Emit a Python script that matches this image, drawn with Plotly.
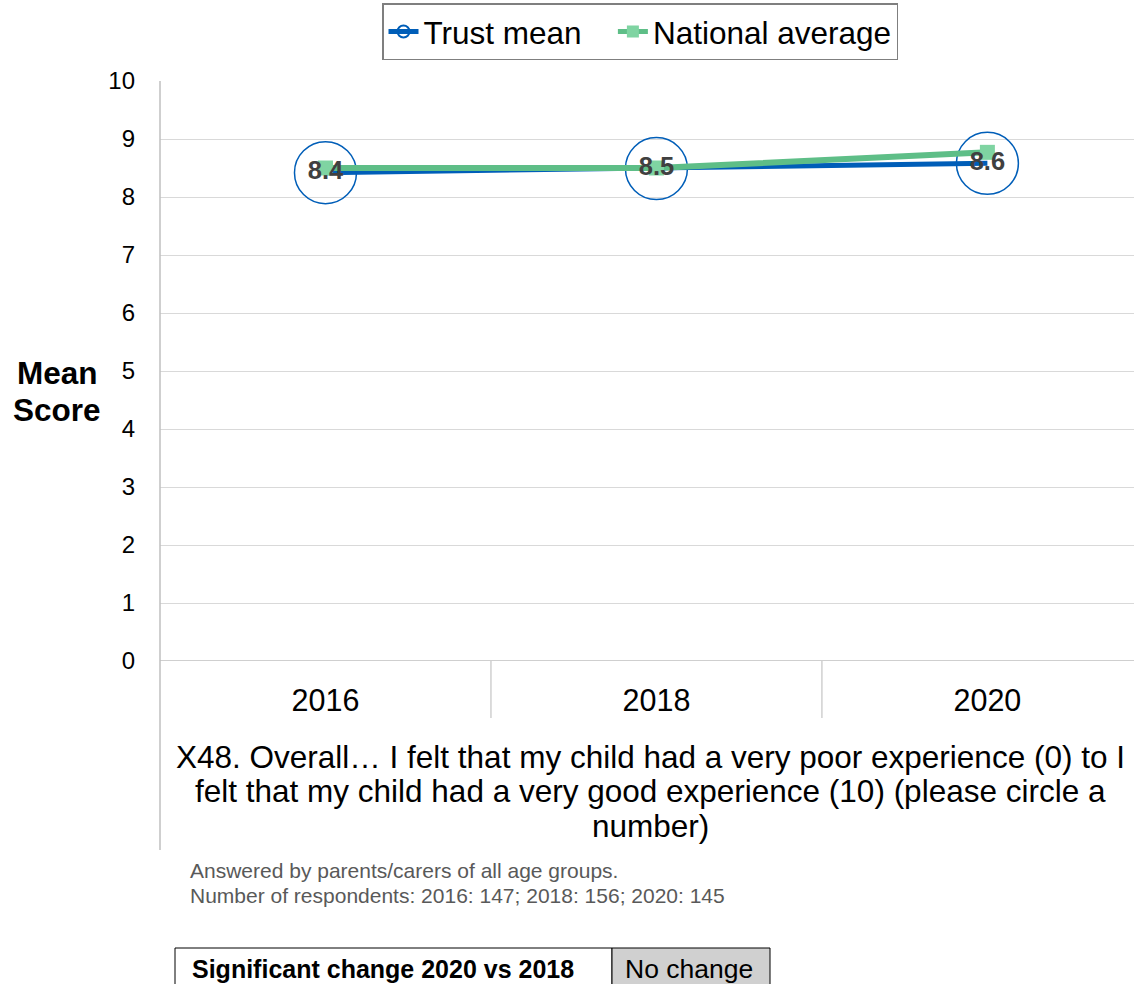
import plotly.graph_objects as go

years = ["2016", "2018", "2020"]
trust_mean = [8.42, 8.49, 8.58]
national_avg = [8.5, 8.5, 8.77]
trust_labels = ["8.4", "8.5", "8.6"]
y_ticks = list(range(0, 11))

question_lines = [
    "X48. Overall\u2026 I felt that my child had a very poor experience (0) to I",
    "felt that my child had a very good experience (10) (please circle a",
    "number)",
]
note_lines = [
    "Answered by parents/carers of all age groups.",
    "Number of respondents: 2016: 147; 2018: 156; 2020: 145",
]
sig_label = "Significant change 2020 vs 2018"
sig_value = "No change"

FONT = "Liberation Sans, Arial, sans-serif"
xs = list(range(len(years)))

PLOT_L, PLOT_T, PLOT_W, PLOT_H = 160, 81, 974, 580


def px_x(sx):
    return (sx - PLOT_L) / PLOT_W


def px_y(sy):
    return (PLOT_T + PLOT_H - sy) / PLOT_H


fig = go.Figure()
fig.add_trace(go.Scatter(
    x=xs, y=trust_mean, name="Trust mean\u00a0\u00a0\u00a0", mode="lines+markers",
    line=dict(color="#005EB8", width=5),
    marker=dict(symbol="circle", size=62, color="rgba(255,255,255,0)",
                line=dict(color="#005EB8", width=1.5)),
))
fig.add_trace(go.Scatter(
    x=xs, y=national_avg, name="National average", mode="lines+markers",
    line=dict(color="#5EBE87", width=6),
    marker=dict(symbol="square", size=15, color="#7FD4A2"),
))
fig.add_trace(go.Scatter(
    x=xs, y=trust_mean, mode="text", text=trust_labels, showlegend=False,
    textposition="middle center",
    textfont=dict(family=FONT, size=25.5, color="#404040", weight="bold"),
    hoverinfo="skip",
))

fig.update_xaxes(
    range=[-0.5, 2.443], tickmode="array", tickvals=xs, ticktext=years,
    showgrid=False, zeroline=False, showline=False, ticks="",
    tickfont=dict(family=FONT, size=30.5, color="#000000"), ticklabelstandoff=18,
)
fig.update_yaxes(
    range=[0, 10], tickvals=y_ticks, showgrid=True, gridcolor="#D9D9D9", gridwidth=1,
    zeroline=False, showline=False, ticks="",
    tickfont=dict(family=FONT, size=24, color="#000000"), ticklabelstandoff=24,
)

shapes = [
    dict(type="line", xref="paper", yref="y", x0=0, x1=1, y0=0, y1=0,
         line=dict(color="#BFBFBF", width=1.5)),
    dict(type="line", xref="paper", yref="paper", x0=0, x1=0, y0=1, y1=px_y(850),
         line=dict(color="#BFBFBF", width=1.5)),
    dict(type="rect", xref="paper", yref="paper", x0=px_x(175), x1=px_x(612),
         y0=px_y(1000), y1=px_y(948),
         line=dict(color="#000000", width=1), fillcolor="#FFFFFF"),
    dict(type="rect", xref="paper", yref="paper", x0=px_x(612), x1=px_x(770),
         y0=px_y(1000), y1=px_y(948),
         line=dict(color="#000000", width=1), fillcolor="#D0D0D0"),
]
for b in [0.5, 1.5]:
    shapes.append(dict(type="line", xref="x", yref="paper", x0=b, x1=b, y0=0, y1=px_y(718),
                       line=dict(color="#D0D0D0", width=1.5)))


def note(text, sx, sy, size, anchor="center", color="#000000"):
    return dict(text=text, xref="paper", yref="paper", x=px_x(sx), y=px_y(sy),
                xanchor=anchor, yanchor="middle", showarrow=False,
                font=dict(family=FONT, size=size, color=color))


annotations = [
    note("<b>Mean</b>", 57, 373, 31.5),
    note("<b>Score</b>", 57, 410, 31.5),
]
for line, sy in zip(question_lines, [757, 791, 826]):
    annotations.append(note(line, 650, sy, 31.5))
for line, sy in zip(note_lines, [870, 895]):
    annotations.append(note(line, 188, sy, 21, anchor="left", color="#595959"))
annotations.append(note("<b>" + sig_label + "</b>", 383, 969, 25))
annotations.append(note(sig_value, 689, 969, 26.5))

fig.update_layout(
    width=1134, height=984,
    margin=dict(l=PLOT_L, r=1134 - PLOT_L - PLOT_W, t=PLOT_T, b=984 - PLOT_T - PLOT_H),
    plot_bgcolor="#FFFFFF", paper_bgcolor="#FFFFFF",
    font=dict(family=FONT, color="#000000"),
    showlegend=True,
    legend=dict(orientation="h", x=px_x(640), xanchor="center",
                y=px_y(3), yanchor="top",
                bordercolor="#7F7F7F", borderwidth=1.5, bgcolor="#FFFFFF",
                font=dict(family=FONT, size=31.5, color="#000000"),
                itemsizing="constant", tracegroupgap=0),
    shapes=shapes, annotations=annotations,
)

# drop the default page margin so the figure sits at the window's corner
fig.write_html("out.html", config={"displayModeBar": False},
               post_script="document.body.style.margin='0';")
